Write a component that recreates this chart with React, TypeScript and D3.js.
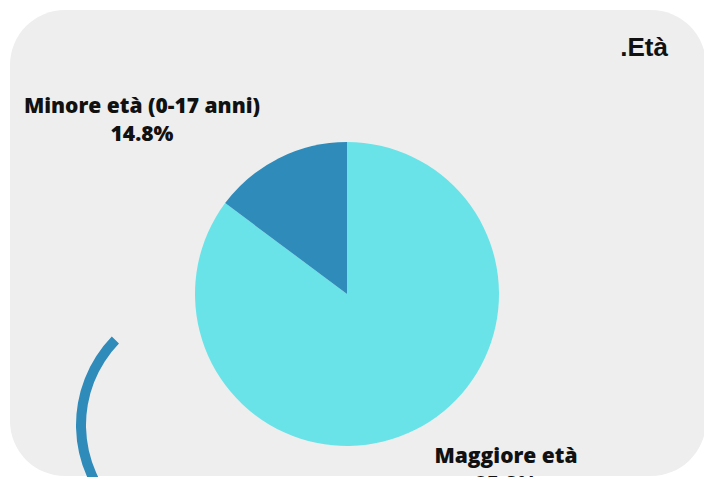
import React from "react";
import * as d3 from "d3";

const categories = ["Maggiore età", "Minore età (0-17 anni)"];
const values = [85.2, 14.8];
const colors = ["#6ae3e8", "#2e8bba"];
const title = ".Età";

const W = 704;
const H = 477;

export default function App() {
  const cx = 347;
  const cy = 294;
  const r = 152;
  const pie = d3
    .pie<number>()
    .sort(null)
    .value((d) => d)
    .startAngle(0)
    .endAngle(2 * Math.PI);
  const arcs = pie(values);
  const arcGen = d3.arc<d3.PieArcDatum<number>>().innerRadius(0).outerRadius(r);

  // label anchor positions relative to the pie centre
  const labelPos = [
    { x: 159, y: 169 },
    { x: -205, y: -181 },
  ];

  const deco = d3
    .arc()
    .innerRadius(117)
    .outerRadius(127)
    .startAngle(-Math.PI * 0.76)
    .endAngle(-Math.PI * 0.255);
  const decoPath = deco({} as any) as string;

  return (
    <svg
      width={W}
      height={H}
      style={{ position: "absolute", left: 0, top: 0, display: "block" }}
    >
      <rect x={0} y={0} width={W} height={H} fill="#ffffff" />
      <rect x={10} y={10} width={696} height={466} rx={55} ry={55} fill="#eeeeee" />
      <path d={decoPath} transform="translate(203,425)" fill="#2e8bba" />
      <g transform={`translate(${cx},${cy})`}>
        {arcs.map((a, i) => (
          <path key={i} d={arcGen(a) as string} fill={colors[i]} />
        ))}
        {arcs.map((a, i) => (
          <text
            key={"t" + i}
            x={labelPos[i].x}
            y={labelPos[i].y}
            textAnchor="middle"
            fontFamily="'Open Sans', sans-serif"
            fontWeight={800}
            fontSize={21}
            fill="#111"
          >
            <tspan x={labelPos[i].x} dy={0}>
              {categories[i]}
            </tspan>
            <tspan x={labelPos[i].x} dy={28}>
              {values[i].toFixed(1) + "%"}
            </tspan>
          </text>
        ))}
      </g>
      <text
        x={644}
        y={56}
        textAnchor="middle"
        fontFamily="'Liberation Sans', Arial, sans-serif"
        fontWeight="bold"
        fontSize={26}
        fill="#111"
      >
        {title}
      </text>
    </svg>
  );
}
